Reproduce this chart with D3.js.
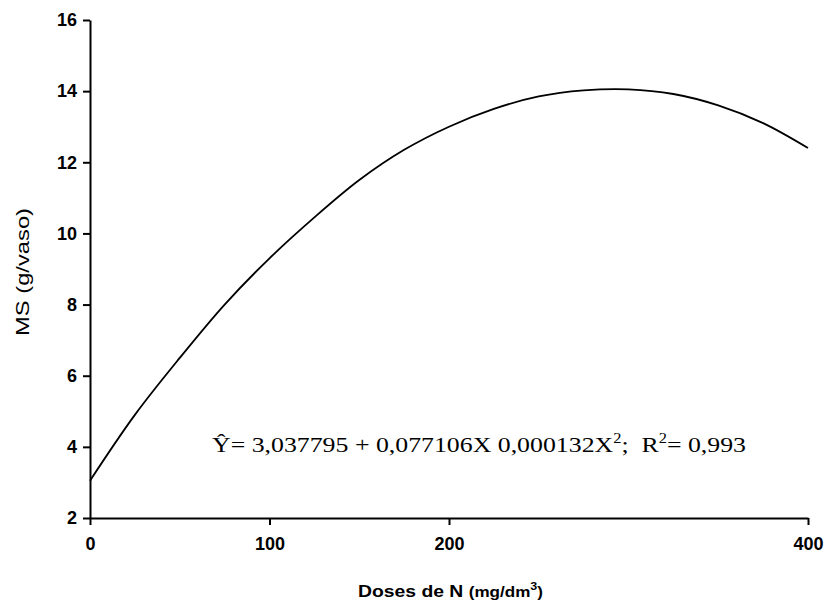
<!DOCTYPE html>
<html>
<head>
<meta charset="utf-8">
<script src="https://cdn.jsdelivr.net/npm/d3@7"></script>
<style>
  html, body { margin: 0; padding: 0; background: #fff; }
  svg { display: block; }
  text { white-space: pre; }
</style>
</head>
<body>
<svg id="chart" width="827" height="603"></svg>
<script>
// ---- data ----
const doses = [0, 25, 50, 75, 100, 125, 150, 175, 200, 225, 250, 275, 300, 325, 350, 375, 400];
const msValues = [3.05, 4.9, 6.5, 8.0, 9.3, 10.45, 11.5, 12.35, 13.0, 13.5, 13.85, 14.02, 14.05, 13.92, 13.6, 13.1, 12.4];
const xTicks = [0, 100, 200, 400];
const yTicks = [2, 4, 6, 8, 10, 12, 14, 16];
const yLabel = "MS (g/vaso)";
const xLabelMain = "Doses de N ";
const xLabelUnit = "(mg/dm";
const equation = ["Ŷ= 3,037795 + 0,077106X 0,000132X", "2", ";  R", "2", "= 0,993"];

const svg = d3.select("#chart");
const x = d3.scaleLinear().domain([0, 400]).range([90, 808]);
const y = d3.scaleLinear().domain([2, 16]).range([518, 20]);

// y axis
const gy = svg.append("g").attr("transform", `translate(${x(0)},0)`)
  .call(d3.axisLeft(y).tickValues(yTicks).tickSize(7).tickSizeOuter(0).tickPadding(6));
gy.select(".domain").attr("stroke", "#000").attr("stroke-width", 2);
gy.selectAll(".tick line").attr("stroke", "#000").attr("stroke-width", 2);
gy.selectAll(".tick text").attr("font-family", "Liberation Sans, Arial, sans-serif")
  .attr("font-size", 18).attr("font-weight", "bold").attr("fill", "#000");

// x axis
const gx = svg.append("g").attr("transform", `translate(0,${y(2)})`)
  .call(d3.axisBottom(x).tickValues(xTicks).tickSize(7).tickSizeOuter(0).tickPadding(12));
gx.select(".domain").attr("stroke", "#000").attr("stroke-width", 2);
gx.selectAll(".tick line").attr("stroke", "#000").attr("stroke-width", 2);
gx.selectAll(".tick text").attr("font-family", "Liberation Sans, Arial, sans-serif")
  .attr("font-size", 18).attr("font-weight", "bold").attr("fill", "#000");

// curve
const line = d3.line().x((d, i) => x(doses[i])).y(d => y(d)).curve(d3.curveCatmullRom);
svg.append("path").datum(msValues).attr("d", line)
  .attr("fill", "none").attr("stroke", "#000").attr("stroke-width", 1.8);

// y label
svg.append("text")
  .attr("transform", `translate(29,272) rotate(-90)`)
  .attr("text-anchor", "middle")
  .attr("font-family", "Liberation Sans, Arial, sans-serif")
  .attr("font-size", 19).attr("fill", "#000")
  .attr("textLength", 128).attr("lengthAdjust", "spacingAndGlyphs")
  .text(yLabel);

// x label
const xl = svg.append("text")
  .attr("x", 358).attr("y", 597)
  .attr("font-family", "Liberation Sans, Arial, sans-serif")
  .attr("font-weight", "bold").attr("fill", "#000")
  .attr("textLength", 185).attr("lengthAdjust", "spacingAndGlyphs");
xl.append("tspan").attr("font-size", 17).text(xLabelMain);
xl.append("tspan").attr("font-size", 15).text(xLabelUnit);
xl.append("tspan").attr("font-size", 11).attr("dy", -7).text("3");
xl.append("tspan").attr("font-size", 15).attr("dy", 7).text(")");

// equation
const eq = svg.append("text")
  .attr("x", 212).attr("y", 452)
  .attr("font-family", "Liberation Serif, Times New Roman, serif")
  .attr("font-size", 22).attr("fill", "#000")
  .attr("textLength", 534).attr("lengthAdjust", "spacingAndGlyphs");
eq.append("tspan").text(equation[0]);
eq.append("tspan").attr("font-size", 14).attr("dy", -9).text(equation[1]);
eq.append("tspan").attr("dy", 9).text(equation[2]);
eq.append("tspan").attr("font-size", 14).attr("dy", -9).text(equation[3]);
eq.append("tspan").attr("dy", 9).text(equation[4]);
</script>
</body>
</html>
